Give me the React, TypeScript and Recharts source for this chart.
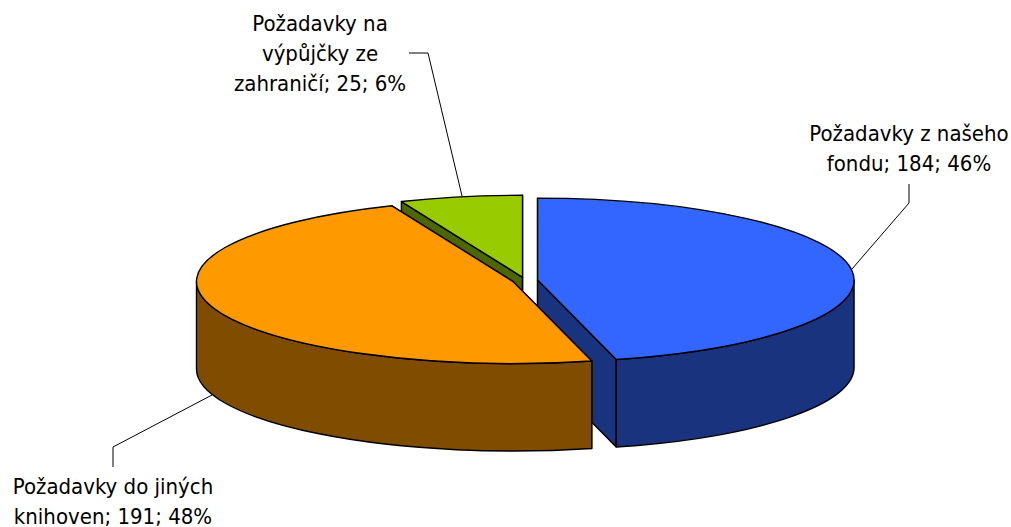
import { PieChart, Pie } from 'recharts';

// order is green, blue, orange so the nearer slices paint over the farther ones
const categories = ['Požadavky na výpůjčky ze zahraničí', 'Požadavky z našeho fondu', 'Požadavky do jiných knihoven'];
const values = [25, 184, 191];
const labelTexts = [
  ['Požadavky na', 'výpůjčky ze', 'zahraničí;'],
  ['Požadavky z našeho', 'fondu;'],
  ['Požadavky do jiných', 'knihoven;'],
];

const topColors = ['#99CC00', '#3366FF', '#FF9900'];
const wallColors = ['#4C6600', '#1A337F', '#7F4C00'];

const labelAnchors = [
  { x: 320, y: 31 },
  { x: 909, y: 141 },
  { x: 113, y: 494 },
];
const leaderLines = [
  '462,196 428,53 409,53',
  '852,269 909,203 909,184',
  '212,395 113,447 113,467',
];

const data = categories.map((name, i) => ({ name, value: values[i] }));

const TILT = 0.259;
const DEPTH = 87.5;
const EXPLODE = 0.04;
const RAD = Math.PI / 180;

const Slice3D = (props: any) => {
  const { cx, cy, outerRadius: rx, startAngle, endAngle, name } = props;
  const i = categories.indexOf(name);
  const ry = rx * TILT;
  const mid = ((startAngle + endAngle) / 2) * RAD;
  const ax = cx + EXPLODE * rx * Math.cos(mid);
  const ay = cy - EXPLODE * ry * Math.sin(mid);
  const pt = (deg: number, drop = 0) => [ax + rx * Math.cos(deg * RAD), ay - ry * Math.sin(deg * RAD) + drop];
  const arc = (from: number, to: number, drop = 0) => {
    const [x, y] = pt(to, drop);
    return `A${rx} ${ry} 0 ${Math.abs(to - from) > 180 ? 1 : 0} ${to < from ? 1 : 0} ${x} ${y}`;
  };
  const [sx, sy] = pt(startAngle);
  const [ex, ey] = pt(endAngle);
  const top = `M${ax} ${ay}L${sx} ${sy}${arc(startAngle, endAngle)}Z`;
  const radial = (x: number, y: number) =>
    `M${ax} ${ay}L${x} ${y}L${x} ${y + DEPTH}L${ax} ${ay + DEPTH}Z`;

  // outer wall only shows on the front half of the ellipse, 0 to -180 degrees
  const from = Math.min(startAngle, 0);
  const to = Math.max(endAngle, -180);
  let wall = '';
  if (from > to) {
    const [x1, y1] = pt(from);
    const [x2, y2] = pt(to);
    wall = `M${x1} ${y1}${arc(from, to)}L${x2} ${y2 + DEPTH}${arc(to, from, DEPTH)}L${x1} ${y1}Z`;
  }
  const line = { stroke: '#000', strokeWidth: 1.4, strokeLinejoin: 'round' as const };
  return (
    <g>
      <path d={radial(sx, sy)} fill={wallColors[i]} {...line} />
      <path d={radial(ex, ey)} fill={wallColors[i]} {...line} />
      {wall && <path d={wall} fill={wallColors[i]} {...line} />}
      <path d={top} fill={topColors[i]} {...line} />
    </g>
  );
};

const renderLeader = (props: any) => {
  const i = categories.indexOf(props.name ?? props.payload?.name);
  return <polyline points={leaderLines[i]} fill="none" stroke="#000" strokeWidth={1} />;
};

const renderLabel = (props: any) => {
  const i = categories.indexOf(props.name ?? props.payload?.name);
  const lines = labelTexts[i];
  const pct = Math.round(props.percent * 100);
  const { x, y } = labelAnchors[i];
  return (
    <text
      x={x}
      y={y}
      textAnchor="middle"
      fill="#000"
      fontFamily="'DejaVu Sans Condensed', 'DejaVu Sans', sans-serif"
      fontSize={22}
      style={{ fontStretch: 'condensed' }}
    >
      {lines.map((line, k) => (
        <tspan key={k} x={x} y={y + k * 30}>
          {k === lines.length - 1 ? `${line} ${values[i]}; ${pct}%` : line}
        </tspan>
      ))}
    </text>
  );
};

export default function App() {
  return (
    <div style={{ position: 'absolute', left: 0, top: 0, width: 1011, height: 527, background: '#fff' }}>
      <PieChart width={1011} height={527} margin={{ top: 0, right: 0, bottom: 0, left: 0 }}>
        <Pie
          data={data}
          dataKey="value"
          nameKey="name"
          cx={525}
          cy={280.5}
          innerRadius={0}
          outerRadius={316.5}
          startAngle={112.5}
          endAngle={-247.5}
          paddingAngle={0}
          isAnimationActive={false}
          shape={Slice3D}
          label={renderLabel}
          labelLine={renderLeader}
        />
      </PieChart>
    </div>
  );
}
